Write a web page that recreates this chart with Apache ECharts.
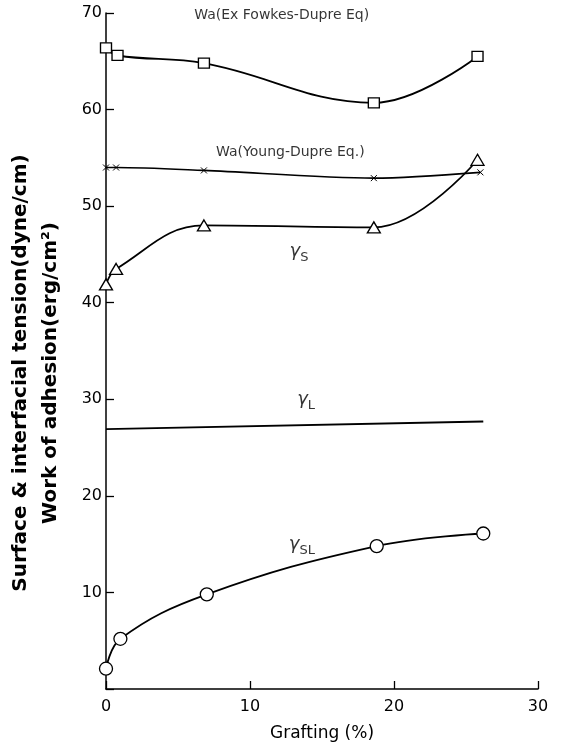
<!DOCTYPE html>
<html>
<head>
<meta charset="utf-8">
<script src="https://cdn.jsdelivr.net/npm/echarts@6/dist/echarts.min.js"></script>
<style>html,body{margin:0;padding:0;background:#fff}#c{width:564px;height:749px}</style>
</head>
<body>
<div id="c"></div>
<script>
// Data
var waFowkesX = [0, 0.8, 6.8, 18.6, 25.8];
var waFowkesY = [66.4, 65.6, 64.8, 60.7, 65.5];
var waYoungX = [0, 0.7, 6.8, 18.6, 26.0];
var waYoungY = [54.0, 54.0, 53.7, 52.9, 53.5];
var gammaSX = [0, 0.7, 6.8, 18.6, 25.8];
var gammaSY = [41.9, 43.5, 48.0, 47.8, 54.8];
var gammaLX = [0, 26.2];
var gammaLY = [26.9, 27.7];
var gammaSLX = [0, 1.0, 7.0, 18.8, 26.2];
var gammaSLY = [2.1, 5.2, 9.8, 14.8, 16.1];
var xTicks = [0, 10, 20, 30];
var yTicks = [0, 10, 20, 30, 40, 50, 60, 70];
var curveLabels = [
  {x: 12.2, y: 69.8, text: 'Wa(Ex Fowkes-Dupre Eq)'},
  {x: 12.8, y: 55.6, text: 'Wa(Young-Dupre Eq.)'},
  {x: 13.4, y: 45.3, text: '{g|γ}{s|S}'},
  {x: 13.9, y: 30.0, text: '{g|γ}{s|L}'},
  {x: 13.6, y: 15.0, text: '{g|γ}{s|SL}'}
];

function pairs(xs, ys) { return xs.map(function (x, i) { return [x, ys[i]]; }); }

var FONT = 'DejaVu Sans';
var chart = echarts.init(document.getElementById('c'));
var common = {
  type: 'line', smooth: 0.4,
  lineStyle: {color: '#000', width: 1.8},
  itemStyle: {color: '#fff', borderColor: '#000', borderWidth: 1.3},
  z: 3
};
chart.setOption({
  backgroundColor: '#fff',
  animation: false,
  grid: {left: 106, right: 26, top: 13, bottom: 60, containLabel: false, outerBoundsMode: 'none'},
  xAxis: {
    type: 'value', min: 0, max: 30, interval: 10,
    name: 'Grafting (%)', nameLocation: 'middle', nameGap: 36,
    nameTextStyle: {fontFamily: FONT, fontSize: 17, color: '#000'},
    axisLine: {lineStyle: {color: '#000', width: 1.5}},
    axisTick: {inside: true, length: 8, lineStyle: {color: '#000', width: 1.3}},
    axisLabel: {fontFamily: FONT, fontSize: 16, color: '#000', margin: 10,
      formatter: function (v) { return xTicks.indexOf(v) >= 0 ? String(v) : ''; }},
    splitLine: {show: false}
  },
  yAxis: {
    type: 'value', min: 0, max: 70, interval: 10,
    name: 'Surface & interfacial tension(dyne/cm)\nWork of adhesion(erg/cm²)',
    nameLocation: 'middle', nameGap: 40, nameRotate: 90,
    nameTextStyle: {fontFamily: FONT, fontSize: 20, fontWeight: 'bold', color: '#000', lineHeight: 30, padding: [0, 44, 0, 0]},
    axisLine: {lineStyle: {color: '#000', width: 1.5}},
    axisTick: {inside: true, length: 8, lineStyle: {color: '#000', width: 1.3}},
    axisLabel: {fontFamily: FONT, fontSize: 16, color: '#000', margin: 4,
      formatter: function (v) { return (v === 0 || yTicks.indexOf(v) < 0) ? '' : String(v); }},
    splitLine: {show: false}
  },
  series: [
    Object.assign({}, common, {name: 'WaF', data: pairs(waFowkesX, waFowkesY), symbol: 'rect', symbolSize: [11, 10]}),
    Object.assign({}, common, {name: 'WaY', data: pairs(waYoungX, waYoungY), symbol: 'path://M0,0L10,10M10,0L0,10', symbolSize: 6,
      itemStyle: {color: 'none', borderColor: '#000', borderWidth: 1}, smooth: 0.3, lineStyle: {color: '#000', width: 1.6}}),
    Object.assign({}, common, {name: 'gS', data: pairs(gammaSX, gammaSY), symbol: 'triangle', symbolSize: [13, 11]}),
    Object.assign({}, common, {name: 'gL', data: pairs(gammaLX, gammaLY), symbol: 'none', smooth: false}),
    Object.assign({}, common, {name: 'gSL', data: pairs(gammaSLX, gammaSLY), symbol: 'circle', symbolSize: 13}),
    {
      type: 'scatter', symbolSize: 0, z: 5,
      data: curveLabels.map(function (l) { return {value: [l.x, l.y], text: l.text}; }),
      label: {
        show: true, position: 'inside', color: '#000', fontFamily: FONT, fontSize: 14,
        formatter: function (p) { return p.data.text; },
        rich: {
          g: {fontFamily: FONT, fontSize: 18, fontStyle: 'italic', color: '#000'},
          s: {fontFamily: FONT, fontSize: 13, color: '#000', padding: [12, 0, 0, 0]}
        }
      }
    }
  ]
});
</script>
</body>
</html>
